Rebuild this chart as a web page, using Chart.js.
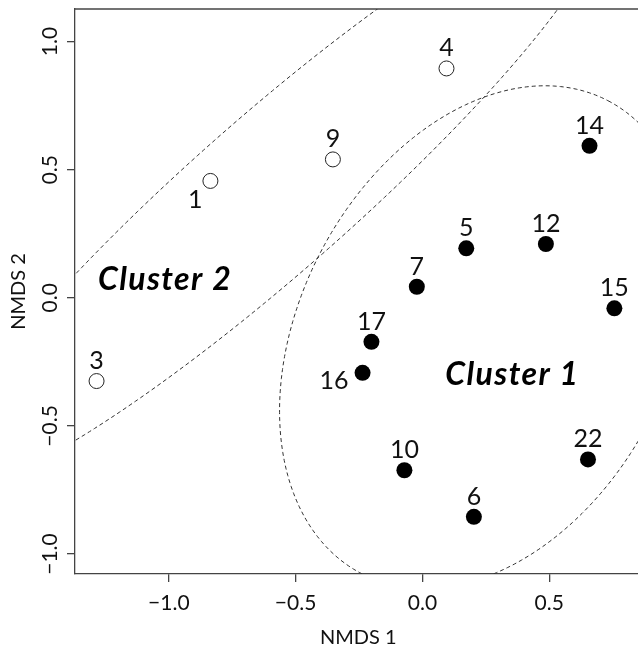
<!DOCTYPE html>
<html>
<head>
<meta charset="utf-8">
<script src="https://cdn.jsdelivr.net/npm/chart.js@4.4.1/dist/chart.umd.min.js"></script>
<style>
  html, body { margin: 0; padding: 0; overflow: hidden; background: #fff; }
  #wrap { width: 650px; height: 648px; }
</style>
</head>
<body>
<div id="wrap"><canvas id="nmds" width="650" height="648"></canvas></div>
<script>
// Sites and their NMDS scores
const siteIds  = ['1', '3', '4', '9', '5', '6', '7', '10', '12', '14', '15', '16', '17', '22'];
const nmds1    = [-0.836, -1.285, 0.095, -0.353, 0.173, 0.203, -0.022, -0.071, 0.487, 0.659, 0.757, -0.236, -0.201, 0.653];
const nmds2    = [0.456, -0.325, 0.895, 0.540, 0.193, -0.855, 0.043, -0.673, 0.210, 0.593, -0.041, -0.293, -0.172, -0.631];
const cluster  = [2, 2, 2, 2, 1, 1, 1, 1, 1, 1, 1, 1, 1, 1];
const labelPos = ['belowLeft', 'above', 'above', 'above', 'above', 'above', 'above', 'above', 'above', 'above', 'above', 'left', 'above', 'above'];

// Cluster ellipses (data units): cluster 1, cluster 2
const ellipseNames = ['Cluster 1', 'Cluster 2'];
const ellipseCx    = [0.2455, -0.5948];
const ellipseCy    = [-0.1535, 0.4036];
const ellipseA     = [1.043, 1.717];
const ellipseB     = [0.727, 0.3067];
const ellipseAngle = [61.7, 41.0];
const clusterTextX = [0.351, -1.019];
const clusterTextY = [-0.341, 0.030];

const FONT = 'Lato, "Open Sans", sans-serif';
const INK = '#111';
const AXIS = '#444';

function fmt(v) {
    const s = Math.abs(v).toFixed(1);
    return v < -1e-9 ? '\u2212' + s : s;
}

function points(c) {
    const out = [];
    siteIds.forEach((id, i) => {
        if (cluster[i] === c) out.push({ x: nmds1[i], y: nmds2[i], id: id, pos: labelPos[i] });
    });
    return out;
}

const ellipsePlugin = {
    id: 'ellipses',
    beforeDatasetsDraw(chart) {
        const { ctx, chartArea, scales } = chart;
        ctx.save();
        ctx.beginPath();
        ctx.rect(chartArea.left, chartArea.top, chartArea.right - chartArea.left, chartArea.bottom - chartArea.top);
        ctx.clip();
        ctx.strokeStyle = '#333';
        ctx.lineWidth = 1;
        ctx.setLineDash([4, 3]);
        ellipseNames.forEach((name, k) => {
            const th = ellipseAngle[k] * Math.PI / 180;
            ctx.beginPath();
            for (let j = 0; j <= 360; j++) {
                const t = j * Math.PI / 180;
                const ca = ellipseA[k] * Math.cos(t), sb = ellipseB[k] * Math.sin(t);
                const x = ellipseCx[k] + ca * Math.cos(th) - sb * Math.sin(th);
                const y = ellipseCy[k] + ca * Math.sin(th) + sb * Math.cos(th);
                const px = scales.x.getPixelForValue(x), py = scales.y.getPixelForValue(y);
                if (j === 0) ctx.moveTo(px, py); else ctx.lineTo(px, py);
            }
            ctx.stroke();
        });
        ctx.restore();
    }
};

const labelPlugin = {
    id: 'siteLabels',
    afterDatasetsDraw(chart) {
        const { ctx, scales } = chart;
        ctx.save();
        ctx.fillStyle = INK;
        ctx.font = '25px ' + FONT;
        ctx.textBaseline = 'alphabetic';
        chart.data.datasets.forEach((ds, di) => {
            chart.getDatasetMeta(di).data.forEach((el, i) => {
                const p = ds.data[i];
                if (p.pos === 'left') {
                    ctx.textAlign = 'right';
                    ctx.fillText(p.id, el.x - 14, el.y + 16);
                } else if (p.pos === 'belowLeft') {
                    ctx.textAlign = 'right';
                    ctx.fillText(p.id, el.x - 8, el.y + 27);
                } else {
                    ctx.textAlign = 'center';
                    ctx.fillText(p.id, el.x, el.y - 12);
                }
            });
        });
        // cluster names
        ctx.font = 'italic bold 32px ' + FONT;
        ctx.letterSpacing = '1.4px';
        ctx.textAlign = 'center';
        ctx.fillStyle = '#000';
        ellipseNames.forEach((name, k) => {
            ctx.fillText(name, scales.x.getPixelForValue(clusterTextX[k]) + 1, scales.y.getPixelForValue(clusterTextY[k]));
        });
        ctx.restore();
    }
};

const axisTextPlugin = {
    id: 'axisText',
    afterDraw(chart) {
        const { ctx, chartArea, scales } = chart;
        ctx.save();
        // top edge of the box
        ctx.strokeStyle = AXIS;
        ctx.lineWidth = 1.3;
        ctx.beginPath();
        ctx.moveTo(chartArea.left, chartArea.top);
        ctx.lineTo(chartArea.right, chartArea.top);
        ctx.stroke();

        ctx.fillStyle = INK;
        ctx.font = '21px ' + FONT;
        ctx.textAlign = 'center';
        ctx.textBaseline = 'alphabetic';
        scales.x.ticks.forEach(t => {
            ctx.fillText(fmt(t.value), scales.x.getPixelForValue(t.value), chartArea.bottom + 36);
        });
        scales.y.ticks.forEach(t => {
            ctx.save();
            ctx.translate(chartArea.left - 18, scales.y.getPixelForValue(t.value));
            ctx.rotate(-Math.PI / 2);
            ctx.fillText(fmt(t.value), 0, 0);
            ctx.restore();
        });
        ctx.font = '20px ' + FONT;
        ctx.fillText('NMDS 1', (chartArea.left + chartArea.right) / 2, chartArea.bottom + 70);
        ctx.translate(chartArea.left - 50, (chartArea.top + chartArea.bottom) / 2);
        ctx.rotate(-Math.PI / 2);
        ctx.fillText('NMDS 2', 0, 0);
        ctx.restore();
    }
};

const axisGrid = { drawOnChartArea: false, drawTicks: true, tickLength: 8, color: AXIS, lineWidth: 1.3 };
const axisBorder = { display: true, color: AXIS, width: 1.3 };

new Chart(document.getElementById('nmds'), {
    type: 'scatter',
    data: {
        datasets: [
            {
                label: 'Cluster 1',
                data: points(1),
                pointRadius: 8,
                pointBackgroundColor: '#000',
                pointBorderColor: '#000',
                pointBorderWidth: 0
            },
            {
                label: 'Cluster 2',
                data: points(2),
                pointRadius: 7.5,
                pointBackgroundColor: '#fff',
                pointBorderColor: '#222',
                pointBorderWidth: 1
            }
        ]
    },
    options: {
        responsive: false,
        animation: false,
        events: [],
        layout: { padding: { top: 9, right: 1, left: 0, bottom: 0 } },
        plugins: { legend: { display: false }, tooltip: { enabled: false } },
        scales: {
            x: {
                type: 'linear',
                min: -1.37,
                max: 0.864,
                afterFit: s => { s.height = 74; },
                ticks: { stepSize: 0.5, includeBounds: false, display: false },
                grid: axisGrid,
                border: axisBorder
            },
            y: {
                type: 'linear',
                min: -1.078,
                max: 1.127,
                afterFit: s => { s.width = 75; },
                ticks: { stepSize: 0.5, includeBounds: false, display: false },
                grid: axisGrid,
                border: axisBorder
            }
        }
    },
    plugins: [ellipsePlugin, labelPlugin, axisTextPlugin]
});
</script>
</body>
</html>
